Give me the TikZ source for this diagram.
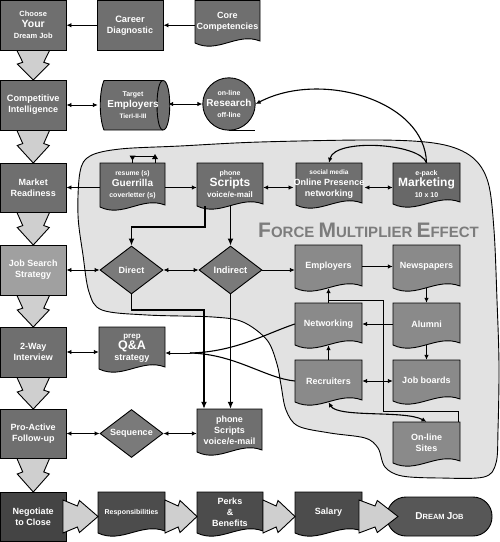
\documentclass[tikz,border=0pt]{standalone}
\usepackage{fontspec}
\setmainfont{Liberation Sans}
\usetikzlibrary{arrows.meta,shapes.geometric,calc}
\pgfdeclarelayer{blobl}
\pgfdeclarelayer{shp}
\pgfsetlayers{blobl,shp,main}
\definecolor{boxc}{HTML}{6F6F6F}
\definecolor{mktc}{HTML}{686868}
\definecolor{grpc}{HTML}{8A8A8A}
\definecolor{jssc}{HTML}{A0A0A0}
\definecolor{diac}{HTML}{7A7A7A}
\definecolor{negc}{HTML}{444444}
\definecolor{botc}{HTML}{4C4C4C}
\definecolor{dreamc}{HTML}{575757}
\definecolor{chevc}{HTML}{CFCFCF}
\definecolor{blobc}{HTML}{E2E2E2}
\definecolor{fmc}{HTML}{7C7C7C}
\newcommand\fs[2]{\fontsize{#1}{#2}\selectfont}
% document-shaped box: name, x1, y1, x2, yb, fill, text
\newcommand\docbox[7]{%
  \begin{pgfonlayer}{shp}
  \path[fill=#6, draw=black, line width=0.9pt] (#2,#3) -- (#4,#3) -- (#4,{#5-2})
    .. controls ({#2+0.65*(#4-#2)},{#5-11}) and ({#2+0.35*(#4-#2)},{#5+11}) .. (#2,#5) -- cycle;
  \end{pgfonlayer}
  \node[txt, minimum width={(#4-#2)*1pt}, minimum height={(#5-#3)*1pt}] (#1) at ({(#2+#4)/2},{(#3+#5)/2}) {#7};
}
% downward chevron: cx, y0, y1
\newcommand\dchev[3]{%
  \path[chev] ({#1-16.5},#2) -- ({#1-10.5},{#2+0.41*(#3-#2)}) -- ({#1-16},{#2+0.47*(#3-#2)}) -- (#1,#3)
    -- ({#1+16},{#2+0.47*(#3-#2)}) -- ({#1+10.5},{#2+0.41*(#3-#2)}) -- ({#1+16.5},#2) -- cycle;
}
% rightward chevron: x0, x1, cy
\newcommand\rchev[3]{%
  \path[chev] (#1,{#3-16.5}) -- ({#1+0.41*(#2-#1)},{#3-10.5}) -- ({#1+0.47*(#2-#1)},{#3-16}) -- (#2,#3)
    -- ({#1+0.47*(#2-#1)},{#3+16}) -- ({#1+0.41*(#2-#1)},{#3+10.5}) -- (#1,{#3+16.5}) -- cycle;
}
\begin{document}
\begin{tikzpicture}[x=1pt,y=-1pt,
  rbox/.style={draw=black, line width=0.9pt, text=white, align=center, inner sep=0pt, font=\bfseries\fs{9}{11}},
  lbox/.style={rbox, minimum width=65.5pt},
  txt/.style={draw=none, text=white, align=center, inner sep=0pt, font=\bfseries\fs{9}{11}},
  dia/.style={rbox, diamond, fill=diac, minimum width=63pt, minimum height=48pt, aspect=1.3},
  ln/.style={line width=0.9pt},
  arr/.style={ln, -{Latex[length=5pt,width=4.5pt]}},
  darr/.style={ln, {Latex[length=5pt,width=4.5pt]}-{Latex[length=5pt,width=4.5pt]}},
  thk/.style={line width=1.8pt, -{Latex[length=7pt,width=6pt]}},
  crv/.style={line width=1.1pt},
  chev/.style={fill=chevc, draw=black, line width=0.9pt, line join=miter},
]
\useasboundingbox (0,0) rectangle (500,542);

% ---------- background blob and down chevrons
\begin{pgfonlayer}{blobl}
\draw[fill=blobc, line width=0.9pt] plot[smooth cycle, tension=0.55] coordinates {
 (80,172) (90,156) (120,149) (180,146) (260,142) (380,140) (440,144) (472,157) (488,182)
 (494,230) (497,300) (499,365) (498,430) (496,463) (484,477) (440,478) (402,476) (385,467)
 (378,448) (365,438) (330,433) (298,426) (286,410) (281,385) (277,364) (267,340) (243,322)
 (213,317) (147,315) (102,310) (89,292) (83,255) (78,215)};
\dchev{33.25}{50}{80}
\dchev{33.25}{130}{163}
\dchev{33.25}{212}{245}
\dchev{33.25}{295}{327}
\dchev{33.25}{377}{409}
\dchev{33.25}{458}{492}
\end{pgfonlayer}

\node[anchor=base west, text=fmc, font=\bfseries, inner sep=0pt] (fme) at (258,237)
 {\fs{21}{22}F\fs{15}{16}ORCE \fs{21}{22}M\fs{15}{16}ULTIPLIER \fs{21}{22}E\fs{15}{16}FFECT};

% ---------- row 1
\node[lbox, fill=boxc, minimum height=49.5pt] (choose) at (33.25,25.25)
 {\fs{7.5}{10}Choose\\\fs{10.5}{10.5}Your\\\fs{7.5}{9}Dream Job};
\node[rbox, fill=boxc, minimum width=66pt, minimum height=49.5pt] (career) at (130,25.25)
 {\fs{9.3}{11}Career\\Diagnostic};
\docbox{core}{195}{0.5}{260}{43}{boxc}{\fs{9}{11}Core\\Competencies}

% ---------- row 2
\node[lbox, fill=boxc, minimum height=50pt] (ci) at (33.25,105)
 {\fs{9.2}{11.5}Competitive\\Intelligence};
\begin{pgfonlayer}{shp}
\path[fill=boxc, draw=black, line width=0.9pt] (104,80.5) -- (163,80.5)
  .. controls (172,80.5) and (172,130) .. (163,130) -- (104,130)
  .. controls (99,118) and (99,92) .. (104,80.5) -- cycle;
\draw[line width=0.9pt] (163,80.5) .. controls (155,80.5) and (155,130) .. (163,130);
\end{pgfonlayer}
\node[txt, minimum width=70pt, minimum height=50pt] (tgt) at (133,105)
 {\fs{7}{9}Target\\\fs{10}{10.5}Employers\\\fs{6.5}{8}TierI-II-III};
\node[rbox, circle, fill=boxc, minimum size=48pt] (res) at (229,104)
 {\fs{7}{9}on-line\\\fs{10}{10.5}Research\\\fs{7}{8}off-line};
\draw[ln] (res.south) -- ++(26,0);

% ---------- row 3
\node[lbox, fill=boxc, minimum height=49pt] (mr) at (33.25,187.5) {Market\\Readiness};
\docbox{resume}{100}{163}{165}{207}{boxc}{\fs{6.8}{9}resume (s)\\\fs{10}{11}Guerrilla\\\fs{7}{8.5}coverletter (s)}
\docbox{scr1}{197}{163}{263}{206}{boxc}{\fs{7}{8.5}phone\\\fs{12}{12.5}Scripts\\\fs{8}{9}voice/e-mail}
\docbox{smed}{296}{163}{362}{205}{boxc}{\fs{6.5}{8.5}social media\\Online Presence\\networking}
\docbox{mkt}{393}{163}{460}{204}{mktc}{\fs{7}{8.5}e-pack\\\fs{12}{12.5}Marketing\\\fs{7}{8.5}10 x 10}

% ---------- row 4
\node[lbox, fill=jssc, minimum height=50pt] (jss) at (33.25,270) {Job Search\\Strategy};
\node[dia] (direct) at (131.5,270) {Direct};
\node[dia] (indirect) at (230.5,270) {\fs{9.3}{11}Indirect};
\docbox{emp}{295}{245}{362}{288}{grpc}{Employers}
\docbox{news}{393}{245}{460}{288}{grpc}{Newspapers}
\docbox{net}{295}{303}{362}{345}{grpc}{Networking}
\docbox{alumni}{393}{303}{460}{345}{grpc}{Alumni}
\docbox{rec}{295}{360}{362}{402}{grpc}{Recruiters}
\docbox{jobb}{393}{360}{460}{401}{grpc}{Job boards}
\docbox{sites}{393}{422}{460}{463}{grpc}{On-line\\Sites}

% ---------- row 5-6
\node[lbox, fill=boxc, minimum height=50pt] (tw) at (33.25,352) {2-Way\\Interview};
\docbox{qa}{99}{327}{165}{369}{boxc}{\fs{8}{10}prep\\\fs{12.5}{13}Q\&A\\\fs{9}{11}strategy}
\node[lbox, fill=boxc, minimum height=49pt] (pa) at (33.25,433.5) {Pro-Active\\Follow-up};
\node[dia] (seq) at (131.5,433.5) {Sequence};
\docbox{scr2}{197}{409}{262}{452}{boxc}{phone\\Scripts\\voice/e-mail}

% ---------- bottom row
\node[lbox, fill=negc, minimum height=49.5pt] (neg) at (33.25,516.75) {Negotiate\\to Close};
\docbox{resp}{98}{492}{165}{533}{botc}{\fs{7}{9}Responsibilities}
\docbox{perks}{197}{492}{263}{533}{botc}{Perks\\\&\\Benefits}
\docbox{salary}{295}{492}{362}{533}{botc}{Salary}
\node[rbox, fill=dreamc, rounded corners=19pt, minimum width=105pt, minimum height=39pt] (dream) at (439.5,516.5)
 {\fs{10}{11}D\fs{7.5}{9}REAM \fs{10}{11}J\fs{7.5}{9}OB};

% ---------- connectors
\draw[arr] (career.west) -- (choose.east);
\draw[arr] (core.west |- career.east) -- (career.east);
\draw[darr] (ci.east) -- (ci.east -| tgt.west);
\draw[darr] (tgt.east |- res.west) -- (res.west);
\draw[crv, -{Latex[length=5pt,width=4.5pt]}] (mkt.north) .. controls (425,100) and (320,70) .. (res.east);
\draw[crv, -{Latex[length=5pt,width=4.5pt]}] (mkt.north) .. controls (420,143) and (335,138) .. (smed.north);

\draw[ln] (resume.north) -- ++(0,-6) -| ([xshift=22.5pt]resume.north);
\fill (129.5,155.5) -- (135.5,155.5) -- (132.5,160.5) -- cycle;
\fill (152,159) -- (158,159) -- (155,154) -- cycle;

\draw[arr] (resume.west |- mr.east) -- (mr.east);
\draw[arr] (resume.east |- mr.east) -- (scr1.west |- mr.east);
\draw[darr] (scr1.east |- mr.east) -- (smed.west |- mr.east);
\draw[darr] (smed.east |- mr.east) -- (mkt.west |- mr.east);

\coordinate (d1) at (205,227);
\draw[thk] (scr1.south -| d1) -- (d1) -| (direct.north);
\draw[thk] (indirect.north |- scr1.south) -- (indirect.north);

\draw[darr] (jss.east) -- (direct.west);
\draw[darr] (direct.east) -- (indirect.west);
\draw[arr] (indirect.east) -- (indirect.east -| emp.west);
\draw[arr] (emp.east) -- (news.west);
\draw[arr] (news.south) -- (alumni.north);
\draw[arr] (alumni.west) -- (net.east);
\draw[arr] (alumni.south) -- (jobb.north);
\draw[darr] (rec.east) -- (rec.east -| jobb.west);
\draw[arr] (rec.north) -- (net.south);
\draw[arr] (net.north) -- (emp.south);
\coordinate (jx) at (383,300);
\draw[ln] ([xshift=-2pt]sites.north east) -- ++(0,-10) -| (jx) -- (jx -| emp.south);
\draw[crv, {Latex[length=5pt,width=4.5pt]}-{Latex[length=5pt,width=4.5pt]}] (rec.south) .. controls (338,418) and (405,410) .. (sites.north);

\coordinate (d2) at (204,310);
\draw[thk] (direct.south) |- (d2) -- (d2 |- scr2.north);
\draw[thk] (indirect.south) -- (indirect.south |- scr2.north);

\draw[darr] (tw.east) -- (tw.east -| qa.west);
\coordinate (qaj) at (190,353);
\draw[crv] (net.west) .. controls (265,334) and (235,352) .. (qaj);
\draw[crv] (rec.west) .. controls (265,378) and (235,354) .. (qaj);
\draw[arr] (qaj) -- (qaj -| qa.east);
\draw[darr] (pa.east) -- (seq.west);
\draw[darr] (seq.east) -- (seq.east -| scr2.west);

% ---------- right chevrons along the bottom
\rchev{63}{98}{516.5}
\rchev{165}{197}{516.5}
\rchev{263}{295}{516.5}
\rchev{359}{398}{516.5}
\end{tikzpicture}
\end{document}
